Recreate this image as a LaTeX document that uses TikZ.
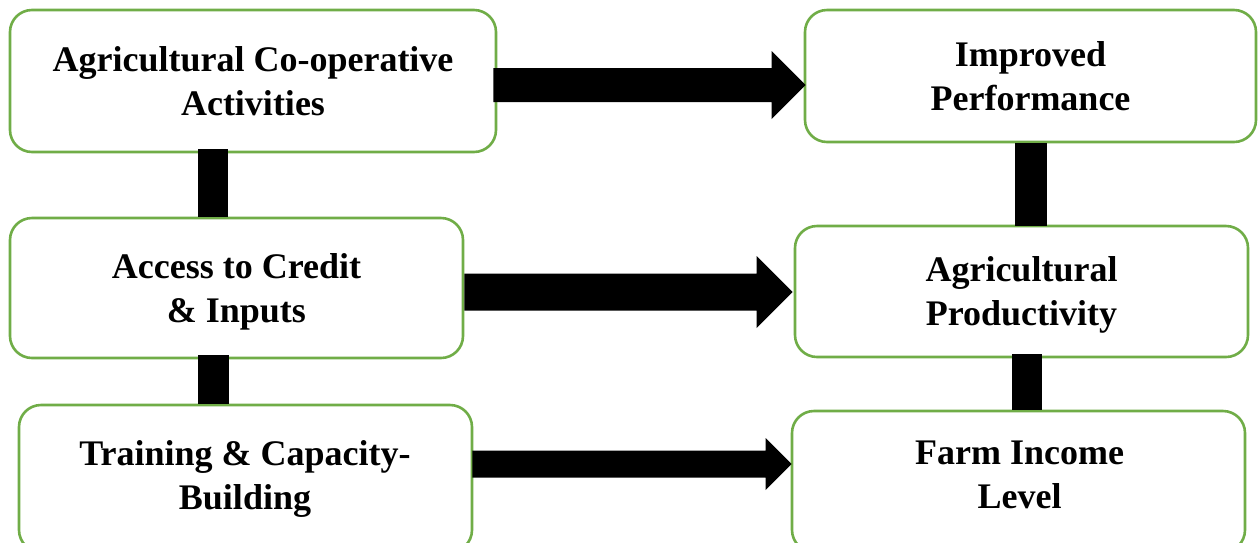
\documentclass[tikz,border=0pt]{standalone}
\usepackage{fontspec}
\setmainfont{Liberation Serif}
\usetikzlibrary{calc}
\definecolor{boxgreen}{RGB}{112,173,71}
\newcommand\blockarr[5]{%
  \fill[black] let \p1=(#1), \p2=(#2) in
    (\x1,{\y1+#3}) -- ({\x2-#5},{\y1+#3}) -- ({\x2-#5},{\y2+#4}) -- (\x2,\y2)
    -- ({\x2-#5},{\y2-#4}) -- ({\x2-#5},{\y1-#3}) -- (\x1,{\y1-#3}) -- cycle;}
\begin{document}
\begin{tikzpicture}[x=1pt,y=-1pt,
  box/.style={draw=boxgreen, line width=2.6pt, rounded corners=22pt, fill=white,
    align=center, inner sep=0pt, text depth=0pt,
    font=\fontsize{36}{44}\selectfont\bfseries},
  txt/.style={align=center, inner sep=0pt, text depth=0pt,
    font=\fontsize{36}{44}\selectfont\bfseries},
  vbar/.style={fill=black}]
\useasboundingbox (0,0) rectangle (1258,542);
\clip (0,0) rectangle (1258,542);
\fill[white] (0,0) rectangle (1258,542);
% boxes
\node[box, minimum width=486pt, minimum height=142pt] (b1) at (253,81) {Agricultural Co-operative\\Activities};
\node[box, minimum width=453pt, minimum height=140pt] (b2) at (236.5,288) {Access to Credit\\\& Inputs};
\node[box, minimum width=453pt, minimum height=147pt] (b3) at (245.5,478.5) {};
\node[txt] (t3) at (245,475) {Training \& Capacity-\\Building};
\node[box, minimum width=451pt, minimum height=132pt] (b4) at (1030.5,76) {Improved\\Performance};
\node[box, minimum width=453pt, minimum height=131pt] (b5) at (1021.5,291.5) {Agricultural\\Productivity};
\node[box, minimum width=453pt, minimum height=141pt] (b6) at (1018.5,481.5) {};
\node[txt] (t6) at (1019.5,475) {Farm Income\\Level};
% vertical bars
\fill[vbar] ($(b1.south)+(-55,-4)$) rectangle ($(b2.north)+(-9,0)$);
\fill[vbar] ($(b2.south)+(-38.5,-4)$) rectangle ($(b3.north)+(-16.5,0)$);
\fill[vbar] ($(b4.south)+(-15.5,0)$) rectangle ($(b5.north)+(25.5,1)$);
\fill[vbar] ($(b5.south)+(-9.5,-4)$) rectangle ($(b6.north)+(23.5,0)$);
% block arrows
\coordinate (a1s) at ($(b1.east)+(-4,4)$);
\coordinate (a1e) at ($(b4.west)+(2,9)$);
\coordinate (a2s) at ($(b2.east)+(0,4)$);
\coordinate (a2e) at ($(b5.west)+(-1,0.5)$);
\coordinate (a3s) at ($(b3.east)+(-1,-14.5)$);
\coordinate (a3e) at ($(b6.west)+(1,-17.5)$);
\blockarr{a1s}{a1e}{17pt}{34pt}{34pt}
\blockarr{a2s}{a2e}{18.5pt}{36pt}{36pt}
\blockarr{a3s}{a3e}{13.5pt}{26pt}{26pt}
\end{tikzpicture}
\end{document}
